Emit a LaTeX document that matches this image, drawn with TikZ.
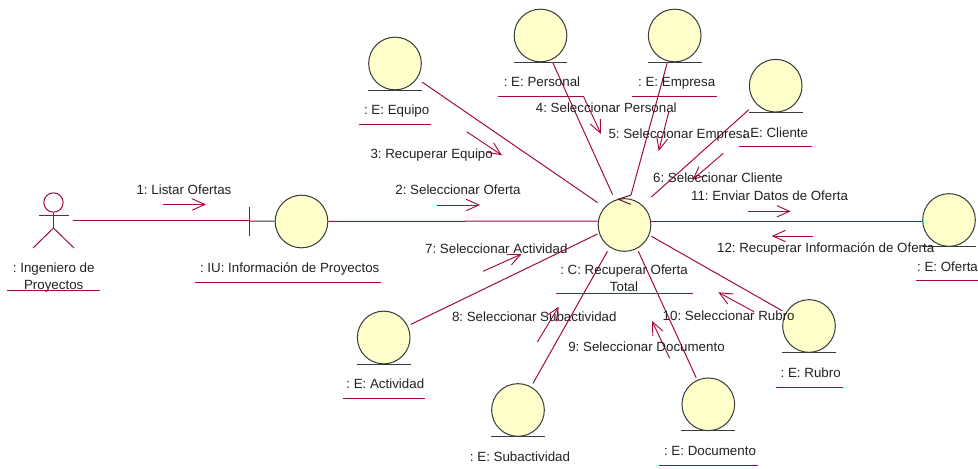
\documentclass[tikz,border=0pt]{standalone}
\usepackage{fontspec}
\setmainfont{Liberation Sans}
\usetikzlibrary{arrows.meta}
\definecolor{rosered}{HTML}{A50A3C}
\definecolor{roseyel}{HTML}{FFFFCB}
\definecolor{rosedark}{HTML}{3A3A3A}
\definecolor{rosetext}{HTML}{222222}
\tikzset{
  x=0.75pt,y=-0.75pt,
  conn/.style={draw=rosered,line width=0.75pt},
  msg/.style={draw=rosered,line width=0.7pt,-{Straight Barb[length=9.5pt,width=8.5pt,line width=0.7pt]}},
  hitbox/.style={rectangle,inner sep=0pt,minimum width=40pt,minimum height=39.5pt},
  ball/.style={circle,draw=rosedark,fill=roseyel,line width=0.75pt,inner sep=0pt,minimum size=39.5pt},
  baseln/.style={draw=rosedark,line width=0.75pt},
  txt/.style={text=rosetext,inner sep=0pt,font=\fontsize{10}{12.4}\selectfont,text height=7.4pt,text depth=0pt},
  txtm/.style={text=rosetext,inner sep=0pt,align=center,font=\fontsize{10}{12.4}\selectfont},
  under/.style={draw=rosered,line width=0.75pt},
}
\newcommand{\entitynode}[3]{%
  \node[hitbox] (#1) at (#2,#3) {};
  \node[ball] (#1-ball) at (#2,#3) {};
  \draw[baseln] (#1.south west) -- (#1.south east);
}
\frenchspacing
\begin{document}
\begin{tikzpicture}
\useasboundingbox (0,0) rectangle (978,468);
\clip (0,0) rectangle (978,468);
\fill[white] (0,0) rectangle (978,468);

% connector end boxes of the central control
\node[rectangle,inner sep=0pt,minimum width=40pt,minimum height=39pt] (central) at (624.5,221) {};
\node[rectangle,inner sep=0pt,minimum width=40pt,minimum height=45pt] (centrallow) at (624.5,221) {};

% entities
\entitynode{equipo}{395}{63.5}
\entitynode{personal}{540.5}{35.5}
\entitynode{empresa}{674.7}{35.5}
\entitynode{cliente}{775.7}{85.7}
\entitynode{oferta}{949}{220}
\entitynode{rubro}{809}{326}
\entitynode{documento}{708.3}{404.3}
\entitynode{subactividad}{518}{410}
\entitynode{actividad}{383.7}{337.5}

% actor
\node[circle,draw=rosered,line width=0.75pt,inner sep=0pt,minimum size=14.5pt] (actorhead) at (53.5,202.5) {};
\node[rectangle,inner sep=0pt,minimum width=29.5pt,minimum height=10pt] (actor) at (53.5,220) {};
\coordinate (hipc) at (53.5,228);
\coordinate (armL) at (39,215.5);
\coordinate (armR) at (68.5,215.5);
\coordinate (legL) at (33,248);
\coordinate (legR) at (74,248);
\draw[conn] (actorhead) -- (hipc);
\draw[conn] (armL) -- (armR);
\draw[conn] (legL) -- (hipc) -- (legR);

% boundary
\node[ball] (iu) at (301.5,221.5) {};
\node[inner sep=0pt,minimum size=0pt] (iubar) at (249,221) {};
\coordinate (barT) at (249,207);
\coordinate (barB) at (249,236);
\coordinate (iubarY) at (249,220);
\draw[draw=rosedark,line width=0.75pt] (barT) -- (barB);
\draw[draw=rosedark,line width=0.75pt] (iubar) -- (iu);

% connectors
\draw[conn] (actor.east |- iubarY) -- (iubarY);
\draw[conn] (iu) -- (central);
\draw[conn] (central) -- (oferta.west |- central);
\draw[conn] (equipo) -- (central);
\draw[conn] (personal) -- (central);
\coordinate (tickO) at (631,195);
\coordinate (tickA) at (618.3,199.3);
\coordinate (tickB) at (630.7,204.3);
\draw[conn] (empresa) -- (tickO);
\draw[conn] (cliente) -- (central);
\draw[conn] (rubro) -- (central);
\draw[conn] (documento) -- (centrallow);
\draw[conn] (subactividad) -- (centrallow);
\draw[conn] (actividad) -- (central);

% central ball on top
\node[ball] (central-ball) at (624.5,225) {};
\draw[draw=rosered!60!black,line width=0.7pt] (tickO) -- (tickA) -- (tickB);

% message arrows
\coordinate (m1a) at (163,204.5);   \coordinate (m1b) at (206,204.5);
\coordinate (m2a) at (437,205);     \coordinate (m2b) at (480,205);
\coordinate (m3a) at (466.7,131.7); \coordinate (m3b) at (502,155.3);
\coordinate (m4a) at (583.3,96);    \coordinate (m4b) at (601,134);
\coordinate (m5a) at (669,111);     \coordinate (m5b) at (658.7,151);
\coordinate (m6a) at (723.3,153.3); \coordinate (m6b) at (692.3,180);
\coordinate (m7a) at (483,271.3);   \coordinate (m7b) at (521.7,254);
\coordinate (m8a) at (537.3,342);   \coordinate (m8b) at (558.7,306.7);
\coordinate (m9a) at (669.7,358.3); \coordinate (m9b) at (652,321);
\coordinate (m10a) at (754,311.7);  \coordinate (m10b) at (718.3,292.3);
\coordinate (m11a) at (748.3,211.3);\coordinate (m11b) at (790.7,211.3);
\coordinate (m12a) at (813.3,236);  \coordinate (m12b) at (771.7,236);
\draw[msg] (m1a) -- (m1b);
\draw[msg] (m2a) -- (m2b);
\draw[msg] (m3a) -- (m3b);
\draw[msg] (m4a) -- (m4b);
\draw[msg] (m5a) -- (m5b);
\draw[msg] (m6a) -- (m6b);
\draw[msg] (m7a) -- (m7b);
\draw[msg] (m8a) -- (m8b);
\draw[msg] (m9a) -- (m9b);
\draw[msg] (m10a) -- (m10b);
\draw[msg] (m11a) -- (m11b);
\draw[msg] (m12a) -- (m12b);

% message labels
\node[txt] (l1) at (184,189.3) {1: Listar Ofertas};
\node[txt] (l2) at (458,190) {2: Seleccionar Oferta};
\node[txt] (l3) at (431.7,153.3) {3: Recuperar Equipo};
\node[txt] (l4) at (606.3,108) {4: Seleccionar Personal};
\node[txt] (l5) at (679.3,134) {5: Seleccionar Empresa};
\node[txt] (l6) at (718,178) {6: Seleccionar Cliente};
\node[txt] (l7) at (496.3,248.3) {7: Seleccionar Actividad};
\node[txt] (l8) at (534.3,316.3) {8: Seleccionar Subactividad};
\node[txt] (l9) at (646.5,346.3) {9: Seleccionar Documento};
\node[txt] (l10) at (728.7,315.3) {10: Seleccionar Rubro};
\node[txt] (l11) at (769.5,196) {11: Enviar Datos de Oferta};
\node[txt] (l12) at (825.7,247.3) {12: Recuperar Información de Oferta};

% object labels and underlines
\node[txtm] (tactor) at (53.7,277.5) {: Ingeniero de\\Proyectos};
\coordinate (uaL) at (7,290.7); \coordinate (uaR) at (100,290.7);
\draw[under] (uaL) -- (uaR);
\node[txt] (tiu) at (289.7,267.3) {: IU: Información de Proyectos};
\coordinate (uiL) at (195,282.3); \coordinate (uiR) at (381,282.3);
\draw[under] (uiL) -- (uiR);
\node[txtm] (tcentral) at (624,278.5) {: C: Recuperar Oferta\\Total};
\coordinate (ucL) at (556,293.7); \coordinate (ucR) at (692.7,293.7);
\draw[under] (ucL) -- (ucR);
\node[txt] (tequipo) at (396.7,109.7) {: E: Equipo};
\coordinate (ueqL) at (358.7,124.3); \coordinate (ueqR) at (431,124.3);
\draw[under] (ueqL) -- (ueqR);
\node[txt] (tpersonal) at (542,81.7) {: E: Personal};
\coordinate (upL) at (498,96.3); \coordinate (upR) at (583,96.3);
\draw[under] (upL) -- (upR);
\node[txt] (tempresa) at (676.7,81.7) {: E: Empresa};
\coordinate (uemL) at (632,96.3); \coordinate (uemR) at (717,96.3);
\draw[under] (uemL) -- (uemR);
\node[txt] (tcliente) at (775.5,132.7) {: E: Cliente};
\coordinate (uclL) at (739.3,146.3); \coordinate (uclR) at (811.7,146.3);
\draw[under] (uclL) -- (uclR);
\node[txt] (toferta) at (947.5,266.7) {: E: Oferta};
\coordinate (uofL) at (916,280.7); \coordinate (uofR) at (978,280.7);
\draw[under] (uofL) -- (uofR);
\node[txt] (trubro) at (810.7,372.3) {: E: Rubro};
\coordinate (urL) at (775.7,387); \coordinate (urR) at (842.7,387);
\draw[under] (urL) -- (urR);
\node[txt] (tdoc) at (710,450.3) {: E: Documento};
\coordinate (udL) at (658.7,465.3); \coordinate (udR) at (758,465.3);
\draw[under] (udL) -- (udR);
\node[txt] (tsub) at (520,456.7) {: E: Subactividad};
\node[txt] (tact) at (385.3,383.3) {: E: Actividad};
\coordinate (uacL) at (342.7,398); \coordinate (uacR) at (425,398);
\draw[under] (uacL) -- (uacR);
\end{tikzpicture}
\end{document}
